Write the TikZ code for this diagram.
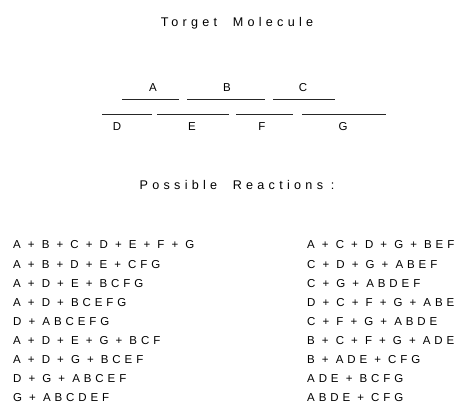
\documentclass[tikz,border=0pt]{standalone}
\usepackage{fontspec}
\newfontfamily\letfont{Liberation Sans}[LetterSpace=34]
\usepackage{tikz}
\usetikzlibrary{positioning}

\begin{document}
\begin{tikzpicture}[x=1pt,y=-1pt,font=\letfont,
  seg/.style={line width=0.9pt,black!85},
  frag/.style={font=\letfont\fontsize{11.5}{13}\selectfont,inner sep=0pt},
  head/.style={font=\letfont\fontsize{12.6}{15}\selectfont,inner sep=0pt},
  reac/.style={font=\letfont\fontsize{11.5}{13}\selectfont,inner sep=0pt,anchor=west}]
 \useasboundingbox (0,0) rectangle (454,411);
 \node[head] (title) at (237,23) {Torget\ \ Molecule};
 % fragments of the target
 \foreach \n/\a/\b/\y/\lx/\ly in {A/122/179/99/153/88,B/187/265/99/227/88,C/273/335/99/303/88,
   D/102/152/114/117/127,E/157/229/114/192/127,F/236/293/114/262/127,G/302/386/114/343/127}{
  \draw[seg] (\a,\y) coordinate (\n-l) -- (\b,\y) coordinate (\n-r);
  \node[frag] (\n) at (\lx,\ly) {\n};
 }
 \node[head] (poss) at (237,185) {Possible\ \ Reactions :};
 % two columns of reactions
 \foreach \r [count=\i from 0] in {A + B + C + D + E + F + G,A + B + D + E + CFG,A + D + E + BCFG,A + D + BCEFG,
   D + ABCEFG,A + D + E + G + BCF,A + D + G + BCEF,D + G + ABCEF,G + ABCDEF}{
  \node[reac] (l\i) at (13,{245+19.1*\i}) {\r};
 }
 \foreach \r [count=\i from 0] in {A + C + D + G + BEF,C + D + G + ABEF,C + G + ABDEF,D + C + F + G + ABE,
   C + F + G + ABDE,B + C + F + G + ADE,B + ADE + CFG,ADE + BCFG,ABDE + CFG}{
  \node[reac] (r\i) at (307,{245+19.1*\i}) {\r};
 }
\end{tikzpicture}
\end{document}
